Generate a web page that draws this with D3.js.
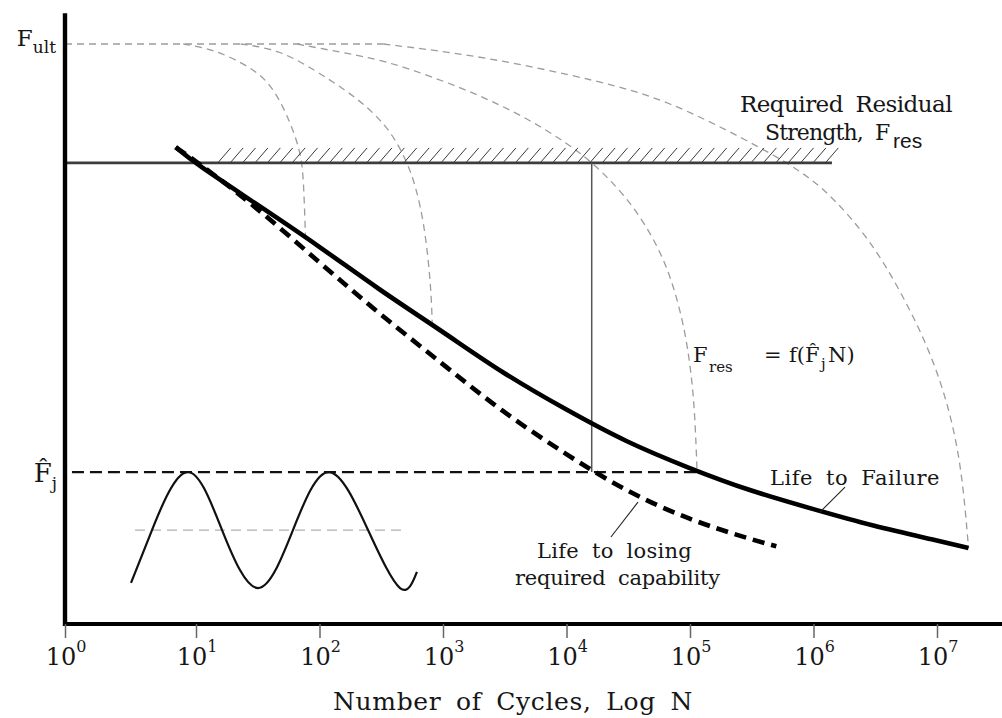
<!DOCTYPE html>
<html><head><meta charset="utf-8">
<script src="https://cdn.jsdelivr.net/npm/d3@7"></script>
<style>
html,body{margin:0;padding:0;background:#fff;}
svg{display:block;}
text{font-family:"DejaVu Serif",serif;fill:#161616;}
</style></head><body>
<svg id="chart" width="1002" height="718"></svg>
<script>
// Decade exponents labelled on the cycles axis
const tickExponents = [0, 1, 2, 3, 4, 5, 6, 7];

// Load levels (% of ultimate strength)
const fUlt = 100;
const fRes = 79.5;
const fJ = 26.2;
const fMean = 16.2;

// Life to failure under constant amplitude load
const failN = [7, 10, 30, 100, 300, 1e3, 3e3, 1e4, 3e4, 1e5, 3e5, 1e6, 3e6, 1e7, 1.8e7];
const failF = [82.2, 79.3, 72.6, 65.1, 57.7, 50.4, 43.3, 36.9, 31.4, 26.8, 23.0, 19.8, 16.9, 14.4, 13.1];

// Life to losing the required residual capability
const capN = [7, 10, 30, 100, 300, 1e3, 3e3, 1e4, 3e4, 1e5, 3e5, 5e5];
const capF = [82.2, 79.8, 72.1, 62.3, 53.6, 44.8, 36.6, 29.2, 22.9, 17.9, 14.7, 13.4];

// Residual strength degradation curves, F_res = f(F_j, N)
const resAN = [8, 14, 28, 40, 51, 61, 69, 73, 75, 77];
const resAF = [100, 99.1, 96.0, 93.1, 89.1, 85.2, 81.7, 78.6, 74.0, 67.0];
const resBN = [23, 48, 96, 162, 244, 341, 427, 514, 597, 693, 761, 804, 819];
const resBF = [100, 99.0, 95.2, 92.1, 89.1, 86.0, 82.9, 79.5, 75.7, 69.7, 62.8, 56.7, 51.5];
const resCN = [66, 147, 329, 834, 2120, 5080, 10100, 16400, 31000, 52200, 71700, 91400, 104000, 110000, 114000];
const resCF = [100, 98.6, 97.2, 94.3, 90.9, 86.9, 82.9, 79.5, 73.6, 66.2, 59.3, 50.7, 42.1, 35.2, 26.5];
const resDN = [329, 2120, 18700, 65300, 290000, 779000, 1.44e6, 2.87e6, 5.02e6, 8.77e6, 1.27e7, 1.59e7, 1.8e7];
const resDF = [100, 97.9, 93.6, 90.3, 83.4, 78.3, 73.6, 66.2, 57.6, 47.2, 36.9, 26.6, 13.1];

// Cyclic load sketch (x in decades of N, y in % of ultimate)
const waveLog = [0.504, 0.664, 0.931, 1.211, 1.502, 1.785, 2.077, 2.393, 2.652, 2.789];
const waveF = [7.1, 16.2, 26.2, 16.2, 6.2, 16.2, 26.2, 16.2, 6.2, 9.0];

// Supporting extents and markers
const frameTopF = 105.3;
const frameRightLog = 7.53;
const hatchFromN = 15, hatchToN = 1.41e6;
const critN = 16000;          // capability curve reaches F_j
const failAtFjN = 114000;     // failure curve reaches F_j

const svg = d3.select("#chart");

const yS = d3.scaleLinear().domain([0, 100]).range([624, 44]);
const xLin = d3.scaleLinear().domain([0, 1, 7]).range([65, 196, 937]);
const xN = n => xLin(Math.log10(n));

const smooth = d3.line().x(d => xN(d[0])).y(d => yS(d[1])).curve(d3.curveBasis);
const straight = d3.line().x(d => xN(d[0])).y(d => yS(d[1]));

// widen a label to the given width: a little extra at word gaps, the rest between letters
function fitText(sel, width, wordExtra = 5) {
  const node = sel.node();
  const natural = node.getComputedTextLength();
  const txt = node.textContent;
  const gaps = (txt.match(/ /g) || []).length;
  const ls = (width - natural - gaps * wordExtra) / txt.length;
  sel.attr("letter-spacing", ls).attr("word-spacing", gaps ? wordExtra : 0);
  return sel;
}

// residual strength curves
const grey = "#9c9c9c";
[[resAN, resAF], [resBN, resBF], [resCN, resCF], [resDN, resDF]].forEach(([n, f]) => {
  svg.append("path").attr("d", smooth(d3.zip(n, f)))
    .attr("fill", "none").attr("stroke", grey).attr("stroke-width", 1.3)
    .attr("stroke-dasharray", "7,5");
});
// ultimate strength level
svg.append("path").attr("d", straight([[1, fUlt], [resDN[0], fUlt]]))
  .attr("fill", "none").attr("stroke", grey).attr("stroke-width", 1.3)
  .attr("stroke-dasharray", "7,5");

// hatching above the required residual strength line
const yRes = yS(fRes);
const hatchX = d3.range(xN(hatchFromN), xN(hatchToN), 12.4);
svg.append("g").selectAll("line").data(hatchX).join("line")
  .attr("x1", d => d).attr("y1", yRes)
  .attr("x2", d => d + 13).attr("y2", yRes - 15)
  .attr("stroke", "#3a3a3a").attr("stroke-width", 1);
svg.append("path").attr("d", straight([[1, fRes], [hatchToN, fRes]]))
  .attr("stroke", "#3c3c3c").attr("stroke-width", 2.6);

// vertical marker where capability is lost
svg.append("path").attr("d", straight([[critN, fRes], [critN, fJ]]))
  .attr("stroke", "#555").attr("stroke-width", 1.5);

// peak load level
svg.append("path").attr("d", straight([[1.13, fJ], [failAtFjN, fJ]]))
  .attr("stroke", "#111").attr("stroke-width", 2.2).attr("stroke-dasharray", "12,6");

// mean load line and the cyclic load sketch
svg.append("line")
  .attr("x1", xLin(0.534)).attr("x2", xLin(2.668))
  .attr("y1", yS(fMean)).attr("y2", yS(fMean))
  .attr("stroke", "#b0b0b0").attr("stroke-width", 1.3).attr("stroke-dasharray", "10,6");
const waveLine = d3.line().x(d => xLin(d[0])).y(d => yS(d[1])).curve(d3.curveNatural);
svg.append("path").attr("d", waveLine(d3.zip(waveLog, waveF)))
  .attr("fill", "none").attr("stroke", "#111").attr("stroke-width", 2.2);

// main life curves
svg.append("path").attr("d", smooth(d3.zip(capN, capF)))
  .attr("fill", "none").attr("stroke", "#000").attr("stroke-width", 4.6)
  .attr("stroke-dasharray", "12,7");
svg.append("path").attr("d", smooth(d3.zip(failN, failF)))
  .attr("fill", "none").attr("stroke", "#000").attr("stroke-width", 4.6);

// label leader lines
svg.append("path").attr("d", straight([[1.13e6, 19.3], [1.8e6, 23.6]]))
  .attr("stroke", "#222").attr("stroke-width", 1.1);
svg.append("path").attr("d", straight([[37900, 21.0], [22900, 15.0]]))
  .attr("stroke", "#222").attr("stroke-width", 1.1);

// axes frame
svg.append("line")
  .attr("x1", xLin(0)).attr("x2", xLin(0))
  .attr("y1", yS(frameTopF)).attr("y2", yS(0) + 2)
  .attr("stroke", "#000").attr("stroke-width", 4.4);
svg.append("line")
  .attr("x1", xLin(0) - 2).attr("x2", xLin(frameRightLog))
  .attr("y1", yS(0)).attr("y2", yS(0))
  .attr("stroke", "#000").attr("stroke-width", 4.2);

const xAxis = d3.axisBottom(xLin).tickValues(tickExponents).tickSize(14).tickFormat("");
const gx = svg.append("g").attr("transform", `translate(0,${yS(0)})`).call(xAxis);
gx.select(".domain").remove();
gx.selectAll(".tick line").attr("stroke", "#666").attr("stroke-width", 1.5);

const tickLbl = svg.append("g").selectAll("text").data(tickExponents).join("text")
  .attr("x", d => xLin(d) + 1).attr("y", 665)
  .attr("text-anchor", "middle").attr("font-size", 24);
tickLbl.append("tspan").text("10");
tickLbl.append("tspan").attr("dy", -13).attr("font-size", 16).text(d => d);

// axis title
fitText(svg.append("text").attr("x", 333).attr("y", 710).attr("font-size", 25)
  .text("Number of Cycles, Log N"), 360, 6);

// y-level labels
const ult = svg.append("text").attr("x", 56).attr("y", 46).attr("text-anchor", "end");
ult.append("tspan").attr("font-size", 23).text("F");
ult.append("tspan").attr("font-size", 17).attr("dy", 7).text("ult");

const fj = svg.append("text").attr("x", 57).attr("y", 482).attr("text-anchor", "end");
fj.append("tspan").attr("font-size", 26).text("F\u0302");
fj.append("tspan").attr("font-size", 17).attr("dy", 7).text("j");

// required residual strength label
fitText(svg.append("text").attr("x", 740).attr("y", 112).attr("font-size", 23)
  .text("Required Residual"), 212, 6);
fitText(svg.append("text").attr("x", 765).attr("y", 140).attr("font-size", 22)
  .text("Strength,"), 98);
svg.append("text").attr("x", 875).attr("y", 140).attr("font-size", 22).text("F");
svg.append("text").attr("x", 893).attr("y", 148).attr("font-size", 21)
  .style("font-family", "'Liberation Sans', Arial, sans-serif").text("res");

// residual strength function label
svg.append("text").attr("x", 693).attr("y", 362).attr("font-size", 21).text("F");
svg.append("text").attr("x", 709).attr("y", 372).attr("font-size", 15).text("res");
svg.append("text").attr("x", 764).attr("y", 362).attr("font-size", 21).text("=");
svg.append("text").attr("x", 789).attr("y", 362).attr("font-size", 21).text("f(F\u0302");
svg.append("text").attr("x", 821).attr("y", 369).attr("font-size", 15).text("j");
svg.append("text").attr("x", 828).attr("y", 362).attr("font-size", 21).text("N)");

// curve labels
fitText(svg.append("text").attr("x", 770).attr("y", 485).attr("font-size", 21)
  .text("Life to Failure"), 170, 6);
fitText(svg.append("text").attr("x", 537).attr("y", 558).attr("font-size", 21)
  .text("Life to losing"), 155, 6);
fitText(svg.append("text").attr("x", 515).attr("y", 585).attr("font-size", 21)
  .text("required capability"), 205, 6);
</script>
</body></html>
